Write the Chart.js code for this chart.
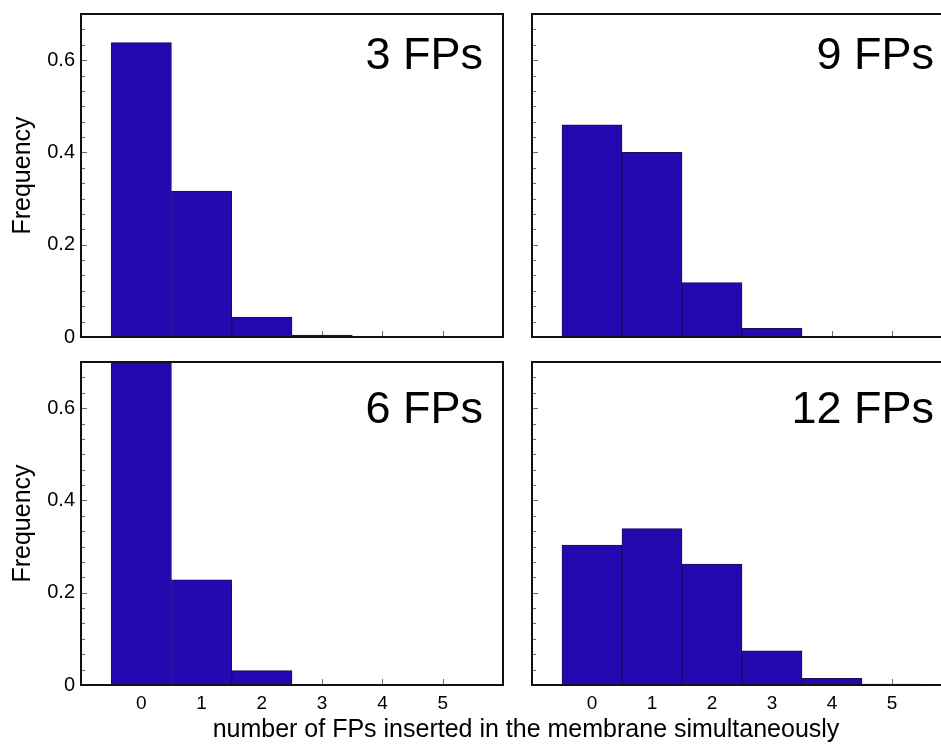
<!DOCTYPE html>
<html>
<head>
<meta charset="utf-8">
<script src="https://cdn.jsdelivr.net/npm/chart.js@4/dist/chart.umd.min.js"></script>
<style>
  html, body { margin: 0; padding: 0; background: #fff; }
  body { width: 941px; height: 744px; position: relative; overflow: hidden;
         font-family: "Liberation Sans", Arial, sans-serif; color: #000; }
  canvas { position: absolute; }
  .lbl { position: absolute; font-size: 45px; line-height: 45px; text-align: right; white-space: nowrap; }
  #xtitle { position: absolute; left: 0; width: 1052px; top: 716px; text-align: center;
            font-size: 25px; line-height: 25px; white-space: nowrap; }
</style>
</head>
<body>
<canvas id="p3" width="520" height="345" style="left:0;top:0"></canvas>
<canvas id="p9" width="440" height="345" style="left:520px;top:0"></canvas>
<canvas id="p6" width="520" height="399" style="left:0;top:345px"></canvas>
<canvas id="p12" width="440" height="399" style="left:520px;top:345px"></canvas>

<div class="lbl" style="left:0;width:483px;top:31px">3 FPs</div>
<div class="lbl" style="left:520px;width:414px;top:31px">9 FPs</div>
<div class="lbl" style="left:0;width:483px;top:385px">6 FPs</div>
<div class="lbl" style="left:520px;width:414px;top:385px">12 FPs</div>
<div id="xtitle">number of FPs inserted in the membrane simultaneously</div>

<script>
// Number of FPs in the membrane at the same time (histogram bins)
const bins = [0, 1, 2, 3, 4, 5];
const xTickValues = [0, 1, 2, 3, 4, 5];
const yTickValues = [0, 0.2, 0.4, 0.6];

// Frequencies per bin for each total number of FPs
const freq3FPs  = [0.638, 0.316, 0.043, 0.004, 0, 0];
const freq6FPs  = [0.740, 0.228, 0.031, 0, 0, 0];
const freq9FPs  = [0.460, 0.400, 0.118, 0.019, 0, 0];
const freq12FPs = [0.303, 0.339, 0.262, 0.074, 0.0145, 0.002];

const X_MIN = -1, X_MAX = 6, Y_MIN = 0, Y_MAX = 0.7;
const BAR_COLOR = '#2409b0';
const BAR_EDGE = '#1b0c5e';

Chart.defaults.font.family = '"Liberation Sans", Arial, sans-serif';
Chart.defaults.color = '#000';

// Inward tick marks plus a closed frame around the plot area
const framePlugin = {
  id: 'frame',
  beforeDatasetsDraw(chart) {
    const { ctx, chartArea: a, scales: { x, y } } = chart;
    ctx.save();
    ctx.strokeStyle = '#6a6a6a';
    ctx.lineWidth = 1;
    ctx.beginPath();
    const major = yTickValues[1] - yTickValues[0];
    const minor = major / 6;
    const n = Math.round((Y_MAX - Y_MIN) / minor);
    for (let i = 1; i <= n; i++) {
      const v = Y_MIN + i * minor;
      const py = Math.round(y.getPixelForValue(v)) + 0.5;
      const len = (i % 6 === 0) ? 6 : 4;
      ctx.moveTo(a.left, py);
      ctx.lineTo(a.left + len, py);
    }
    xTickValues.forEach(v => {
      const px = Math.round(x.getPixelForValue(v)) + 0.5;
      ctx.moveTo(px, a.bottom);
      ctx.lineTo(px, a.bottom - 6);
    });
    ctx.stroke();
    ctx.restore();
  },
  afterDraw(chart) {
    const { ctx, chartArea: a } = chart;
    ctx.save();
    ctx.strokeStyle = '#111';
    ctx.lineWidth = 2;
    ctx.strokeRect(a.left, a.top, a.right - a.left, a.bottom - a.top);
    ctx.restore();
  }
};

function makePanel(id, values, opts) {
  const data = bins.map((b, i) => ({ x: b, y: values[i] }));
  return new Chart(document.getElementById(id), {
    type: 'bar',
    data: {
      datasets: [{
        data,
        backgroundColor: BAR_COLOR,
        borderColor: BAR_EDGE,
        borderWidth: c => (c.raw && c.raw.y > 0 ? 1 : 0),
        barPercentage: 1,
        categoryPercentage: 1
      }]
    },
    options: {
      responsive: false,
      animation: false,
      devicePixelRatio: 1,
      layout: { padding: opts.padding },
      plugins: { legend: { display: false }, tooltip: { enabled: false } },
      scales: {
        x: {
          type: 'linear',
          min: X_MIN, max: X_MAX,
          offset: false,
          display: opts.showX,
          grid: { display: false, drawTicks: false },
          border: { display: false },
          afterBuildTicks: s => { s.ticks = xTickValues.map(v => ({ value: v })); },
          afterFit: s => {
            if (opts.showX) s.height = 40;
            s.paddingLeft = 0; s.paddingRight = 0;
          },
          ticks: { font: { size: 19 }, padding: 7, maxRotation: 0, autoSkip: false,
                   callback: v => String(v) }
        },
        y: {
          min: Y_MIN, max: Y_MAX,
          display: opts.showY,
          grid: { display: false, drawTicks: false },
          border: { display: false },
          afterBuildTicks: s => { s.ticks = yTickValues.map(v => ({ value: v })); },
          afterFit: s => {
            if (opts.showY) s.width = 81;
            s.paddingTop = 0; s.paddingBottom = 0;
          },
          ticks: { font: { size: 20 }, padding: 6,
                   callback: v => (v === 0 ? '0' : v.toFixed(1)) },
          title: { display: true, text: 'Frequency', font: { size: 25 },
                   padding: { top: 8, bottom: 0 } }
        }
      }
    },
    plugins: [framePlugin]
  });
}

makePanel('p3',  freq3FPs,  { showX: false, showY: true,  padding: { top: 14, right: 17, bottom: 8, left: 0 } });
makePanel('p9',  freq9FPs,  { showX: false, showY: false, padding: { top: 14, right: 8,  bottom: 8, left: 12 } });
makePanel('p6',  freq6FPs,  { showX: true,  showY: true,  padding: { top: 17, right: 17, bottom: 19, left: 0 } });
makePanel('p12', freq12FPs, { showX: true,  showY: false, padding: { top: 17, right: 8,  bottom: 19, left: 12 } });
</script>
</body>
</html>
